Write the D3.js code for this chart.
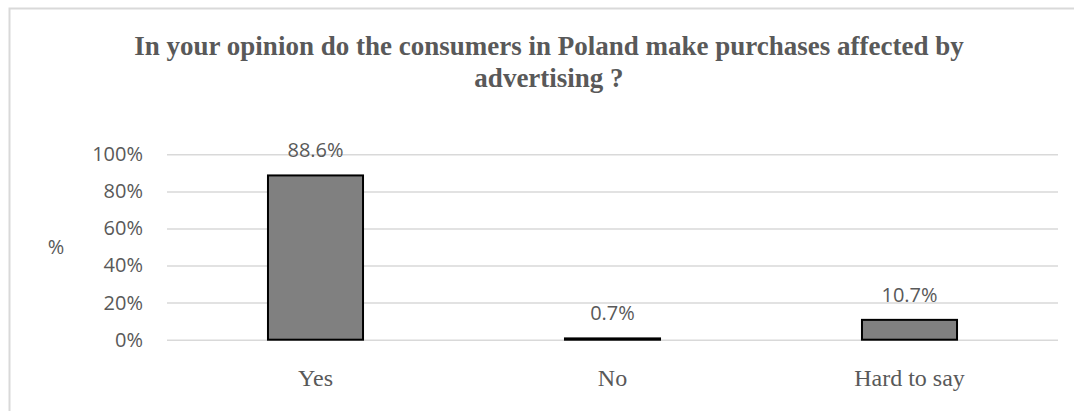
<!DOCTYPE html>
<html>
<head>
<meta charset="utf-8">
<script src="https://cdn.jsdelivr.net/npm/d3@7"></script>
<style>
  html, body { margin: 0; padding: 0; background: #ffffff; }
  svg { display: block; }
</style>
</head>
<body>
<svg id="chart" width="1074" height="411"></svg>
<script>
// Survey answers and their shares
const categories = ["Yes", "No", "Hard to say"];
const shares = [0.886, 0.007, 0.107];
const valueLabels = ["88.6%", "0.7%", "10.7%"];
const yTicks = [0, 0.2, 0.4, 0.6, 0.8, 1.0];
const titleLines = [
  "In your opinion do the consumers in Poland make purchases affected by",
  "advertising ?"
];
const yAxisTitle = "%";

const svg = d3.select("#chart");
const textColor = "#595959";
const gridColor = "#d9d9d9";
const sansFont = "'Open Sans', 'Noto Sans', sans-serif";
const serifFont = "'Liberation Serif', 'DejaVu Serif', serif";

// Outer frame of the chart area (continues past the right and bottom edges)
svg.append("rect")
  .attr("x", 9.5).attr("y", 8.5)
  .attr("width", 1200).attr("height", 600)
  .attr("fill", "none")
  .attr("stroke", gridColor)
  .attr("stroke-width", 2);

// Plot area
const plot = { left: 167, right: 1058, top: 154.3, bottom: 339.7 };

const x = d3.scaleBand()
  .domain(categories)
  .range([plot.left, plot.right])
  .paddingInner(0.68)
  .paddingOuter(0.34);

const y = d3.scaleLinear()
  .domain([0, 1])
  .range([plot.bottom, plot.top]);

// Title
svg.append("text")
  .attr("x", 549)
  .attr("y", 55)
  .attr("text-anchor", "middle")
  .attr("font-family", serifFont)
  .attr("font-weight", "bold")
  .attr("font-size", 27)
  .attr("fill", textColor)
  .selectAll("tspan")
  .data(titleLines)
  .join("tspan")
  .attr("x", 549)
  .attr("dy", (d, i) => i === 0 ? 0 : 32)
  .text(d => d);

// Horizontal gridlines with percentage labels
const yAxis = d3.axisLeft(y)
  .tickValues(yTicks)
  .tickFormat(d3.format(".0%"))
  .tickSize(-(plot.right - plot.left))
  .tickPadding(24);

const yAxisG = svg.append("g")
  .attr("transform", `translate(${plot.left},0)`)
  .call(yAxis);
yAxisG.select(".domain").remove();
yAxisG.selectAll(".tick line")
  .attr("stroke", gridColor)
  .attr("stroke-width", 1.5);
yAxisG.selectAll(".tick text")
  .attr("font-family", sansFont)
  .attr("font-size", 20)
  .attr("fill", textColor);

// Y axis title
svg.append("text")
  .attr("x", 56)
  .attr("y", (plot.top + plot.bottom) / 2)
  .attr("dy", "0.35em")
  .attr("text-anchor", "middle")
  .attr("font-family", sansFont)
  .attr("font-size", 20)
  .attr("fill", textColor)
  .text(yAxisTitle);

// Bars
const data = categories.map((c, i) => ({ cat: c, v: shares[i], label: valueLabels[i] }));

svg.append("g")
  .selectAll("rect")
  .data(data)
  .join("rect")
  .attr("x", d => x(d.cat))
  .attr("y", d => y(d.v))
  .attr("width", x.bandwidth())
  .attr("height", d => y(0) - y(d.v))
  .attr("fill", "#808080")
  .attr("stroke", "#000000")
  .attr("stroke-width", 2);

// Value labels above the bars
svg.append("g")
  .selectAll("text")
  .data(data)
  .join("text")
  .attr("x", d => x(d.cat) + x.bandwidth() / 2)
  .attr("y", d => y(d.v) - 18)
  .attr("text-anchor", "middle")
  .attr("font-family", sansFont)
  .attr("font-size", 20)
  .attr("fill", textColor)
  .text(d => d.label);

// Category labels
const xAxis = d3.axisBottom(x).tickSize(0).tickPadding(0);
const xAxisG = svg.append("g")
  .attr("transform", `translate(0,${plot.bottom})`)
  .call(xAxis);
xAxisG.select(".domain").remove();
xAxisG.selectAll(".tick text")
  .attr("y", 46)
  .attr("dy", 0)
  .attr("font-family", serifFont)
  .attr("font-size", 24)
  .attr("fill", textColor);
</script>
</body>
</html>
